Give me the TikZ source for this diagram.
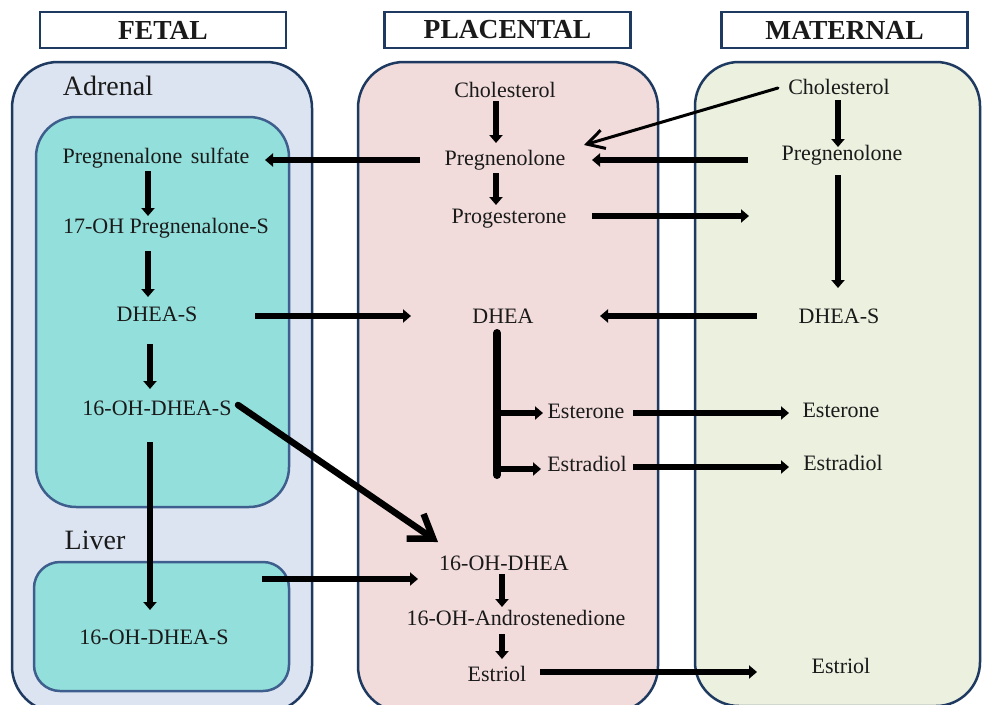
\documentclass[tikz,border=0pt]{standalone}
\usepackage{fontspec}
\setmainfont{Liberation Serif}
\usetikzlibrary{arrows.meta,calc}
\definecolor{fetbg}{HTML}{DCE4F1}
\definecolor{teal2}{HTML}{93DFDB}
\definecolor{placbg}{HTML}{F2DCDB}
\definecolor{matbg}{HTML}{EBF0DF}
\definecolor{navy}{HTML}{1F3A60}
\definecolor{midblue}{HTML}{3E5F8E}
\definecolor{txt}{HTML}{1A1A1A}
\tikzset{
  lbl/.style={inner sep=0pt, text height=14pt, text depth=0pt, text=txt, font=\fontsize{22}{24}\selectfont},
  region/.style={inner sep=0pt, text height=19pt, text depth=0pt, text=txt, font=\fontsize{28}{30}\selectfont},
  header/.style={draw=navy, line width=2.5pt, fill=white, minimum width=246pt, minimum height=36pt, inner sep=0pt, text=txt, font=\fontsize{27.5}{30}\selectfont\bfseries},
  outerbox/.style={draw=navy, line width=2.5pt, rounded corners=46pt},
  innerbox/.style={draw=midblue, line width=2.5pt, fill=teal2},
  arr/.style={line width=5.5pt, -{Triangle[length=8pt,width=13pt]}},
  bigarr/.style={line width=6.5pt, line cap=round, -{Straight Barb[length=22pt,width=30pt,line width=6.5pt]}},
  thinarr/.style={line width=3pt, line cap=round, -{Straight Barb[length=17pt,width=19pt,line width=3pt]}},
  bar/.style={line width=8pt, line cap=round}
}
\begin{document}
\begin{tikzpicture}[x=1pt,y=-1pt]
\path[use as bounding box] (0,0) rectangle (982,704);
\clip (0,0) rectangle (982,704);
\fill[white] (0,0) rectangle (982,704);

% region boxes
\draw[outerbox, fill=fetbg] (12,62) rectangle (312,712);
\draw[outerbox, fill=placbg] (358,62) rectangle (658,712);
\draw[outerbox, fill=matbg, rounded corners=44pt] (695,62) rectangle (980,706);
\draw[innerbox, rounded corners=40pt] (36,117) rectangle (289,507);
\node[innerbox, rounded corners=26pt, minimum width=255pt, minimum height=129pt, inner sep=0pt] (lbox) at (161.5,626.5) {};

% headers
\node[header] (hf) at (163,30) {FETAL};
\node[header] (hp) at (507.5,30) {PLACENTAL};
\node[header] (hm) at (844.5,30) {MATERNAL};

% region labels
\node[region] (adr) at (108,86) {Adrenal};
\node[region] (liv) at (95,540) {Liver};

% fetal
\node[lbl] (fps) at (156,156) {Pregnenalone\hspace{3pt} sulfate};
\node[lbl] (f17) at (166,226) {17-OH Pregnenalone-S};
\node[lbl] (fd) at (157,314) {DHEA-S};
\node[lbl] (f16) at (157,408) {16-OH-DHEA-S};
\node[lbl] (l16) at (154,637) {16-OH-DHEA-S};

% placental
\node[lbl] (pc) at (505,90) {Cholesterol};
\node[lbl] (pp) at (505,158) {Pregnenolone};
\node[lbl] (pg) at (509,216) {Progesterone};
\node[lbl] (pd) at (503,316) {DHEA};
\node[lbl] (pe1) at (586,411) {Esterone};
\node[lbl] (pe2) at (587,464) {Estradiol};
\node[lbl] (p16) at (504,563) {16-OH-DHEA};
\node[lbl] (pa) at (516,618) {16-OH-Androstenedione};
\node[lbl] (pes) at (497,674) {Estriol};

% maternal
\node[lbl] (mc) at (839,87) {Cholesterol};
\node[lbl] (mp) at (842,153) {Pregnenolone};
\node[lbl] (md) at (839,316) {DHEA-S};
\node[lbl] (me1) at (841,410) {Esterone};
\node[lbl] (me2) at (843,463) {Estradiol};
\node[lbl] (mes) at (841,666) {Estriol};

\coordinate (mprog) at (749,216);

% placental column
\draw[arr] ($(pc)+(-9,11)$) -- ($(pp)+(-9,-15)$);
\draw[arr] ($(pp)+(-9,15)$) -- ($(pg)+(-13,-11)$);
\draw[arr] ($(pg)+(83,0)$) -- (mprog);
\draw[bar] ($(pd)+(-6,17)$) -- ($(pd)+(-6,159)$);
\draw[arr] ($(pd)+(-6,97)$) -- ($(pe1)+(-43,2)$);
\draw[arr] ($(pd)+(-6,153)$) -- ($(pe2)+(-46,5)$);
\draw[arr] ($(pe1)+(47,2)$) -- ($(me1)+(-52,3)$);
\draw[arr] ($(pe2)+(46,3)$) -- ($(me2)+(-54,4)$);
\draw[arr] ($(p16)+(-2,11)$) -- ($(pa)+(-14,-11)$);
\draw[arr] ($(pa)+(-14,16)$) -- ($(pes)+(5,-15)$);
\draw[arr] ($(pes)+(43,-2)$) -- ($(mes)+(-84,6)$);
\draw[arr] ($(pp)+(-85,2)$) -- ($(fps)+(109,4)$);

% maternal column
\draw[arr] ($(mc)+(-1,13)$) -- ($(mp)+(-4,-6)$);
\draw[thinarr] ($(mc)+(-61,1)$) -- ($(pp)+(79,-13)$);
\draw[arr] ($(mp)+(-94,7)$) -- ($(pp)+(87,2)$);
\draw[arr] ($(mp)+(-4,22)$) -- ($(md)+(-1,-28)$);
\draw[arr] ($(md)+(-82,0)$) -- ($(pd)+(97,0)$);

% fetal column
\draw[arr] ($(fps)+(-8,15)$) -- ($(f17)+(-18,-10)$);
\draw[arr] ($(f17)+(-18,25)$) -- ($(fd)+(-9,-17)$);
\draw[arr] ($(fd)+(-7,30)$) -- ($(f16)+(-7,-19)$);
\draw[arr, line width=6pt] ($(f16)+(-7,34)$) -- ($(l16)+(-4,-27)$);
\draw[arr] ($(fd)+(98,2)$) -- ($(pd)+(-92,0)$);
\draw[bigarr] ($(f16)+(81,-3)$) -- ($(p16)+(-66,-21)$);
\draw[arr] ($(lbox)+(100.5,-47.5)$) -- ($(p16)+(-86,16)$);
\end{tikzpicture}
\end{document}
